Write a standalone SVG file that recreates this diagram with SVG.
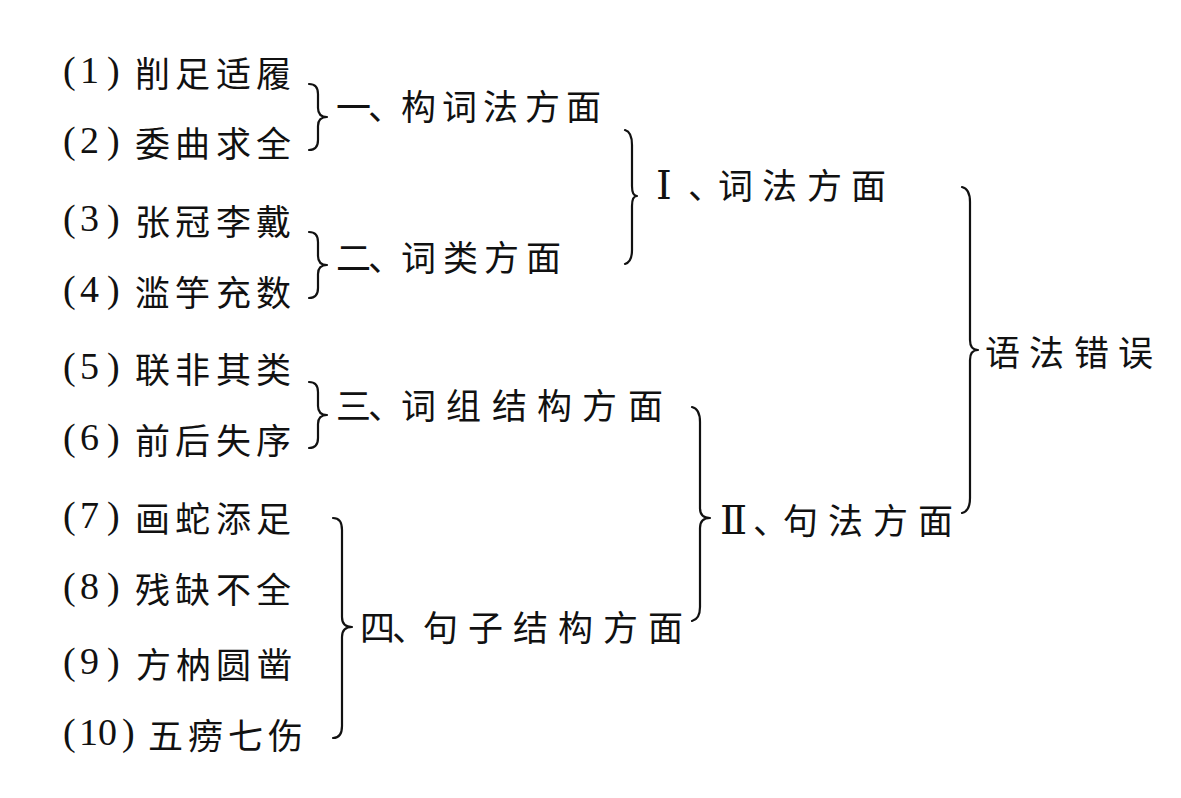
<svg xmlns="http://www.w3.org/2000/svg" width="1181" height="798" viewBox="0 0 1181 798">
<style>
text { font-family: "Noto Sans CJK SC", "Noto Sans", sans-serif; font-size: 35px; fill: #111; }
.n { font-family: "Liberation Serif", "DejaVu Serif", serif; font-size: 38px; }
.r { font-family: "DejaVu Serif", "Liberation Serif", "Noto Sans CJK SC", serif; font-size: 40px; }
.br { fill: none; stroke: #111; stroke-width: 2.2; stroke-linecap: round; stroke-linejoin: round; }
</style>
<rect width="1181" height="798" fill="#fff"/>
<g id="items">
<g id="item1"><text y="87"><tspan class="n" x="63 80 107" dy="-4">(1)</tspan><tspan x="135 175 216 256" dy="4">削足适履</tspan></text></g>
<g id="item2"><text y="157"><tspan class="n" x="63 80 107" dy="-4">(2)</tspan><tspan x="135 175 216 256" dy="4">委曲求全</tspan></text></g>
<g id="item3"><text y="235"><tspan class="n" x="63 80 107" dy="-4">(3)</tspan><tspan x="135 175 216 256" dy="4">张冠李戴</tspan></text></g>
<g id="item4"><text y="306"><tspan class="n" x="63 80 107" dy="-4">(4)</tspan><tspan x="135 175 216 256" dy="4">滥竽充数</tspan></text></g>
<g id="item5"><text y="383"><tspan class="n" x="63 80 107" dy="-4">(5)</tspan><tspan x="135 175 216 256" dy="4">联非其类</tspan></text></g>
<g id="item6"><text y="454"><tspan class="n" x="63 80 107" dy="-4">(6)</tspan><tspan x="135 175 216 256" dy="4">前后失序</tspan></text></g>
<g id="item7"><text y="532"><tspan class="n" x="63 80 107" dy="-4">(7)</tspan><tspan x="135 175 216 256" dy="4">画蛇添足</tspan></text></g>
<g id="item8"><text y="603"><tspan class="n" x="63 80 107" dy="-4">(8)</tspan><tspan x="135 175 216 256" dy="4">残缺不全</tspan></text></g>
<g id="item9"><text y="678"><tspan class="n" x="63 80 107" dy="-4">(9)</tspan><tspan x="136 176 216 257" dy="4">方枘圆凿</tspan></text></g>
<g id="item10"><text y="749"><tspan class="n" x="63 79 98 122" dy="-4">(10)</tspan><tspan x="148 188 228 268" dy="4">五痨七伤</tspan></text></g>
</g>
<g id="cat1"><text y="120" x="336 368 401 442 483 525 566">一、构词法方面</text></g>
<g id="cat2"><text y="271" x="336 368 401 443 484 526">二、词类方面</text></g>
<g id="cat3"><text y="419" x="336 368 401 446 492 537 582 628">三、词组结构方面</text></g>
<g id="cat4"><text y="641" x="360 392 423 468 513 558 603 648">四、句子结构方面</text></g>
<g id="groupI"><text y="199"><tspan class="r" x="656">Ⅰ</tspan><tspan x="688 718 762 807 851">、词法方面</tspan></text></g>
<g id="groupII"><text y="534"><tspan class="r" x="720">Ⅱ</tspan><tspan x="753 783 828 873 918">、句法方面</tspan></text></g>
<g id="root"><text y="366" x="985 1029 1074 1118">语法错误</text></g>
<g id="connectors">
<path class="br" d="M309 84 Q318 84 318 94 L318 108 Q318 117 327 117 Q318 117 318 126 L318 140 Q318 150 309 150"/>
<path class="br" d="M309 232 Q318 232 318 242 L318 256 Q318 265 327 265 Q318 265 318 274 L318 288 Q318 298 309 298"/>
<path class="br" d="M309 382 Q318 382 318 392 L318 406 Q318 415 327 415 Q318 415 318 424 L318 438 Q318 448 309 448"/>
<path class="br" d="M333 518 Q342 518 342 530 L342 617 Q342 627 352 627 Q342 627 342 637 L342 726 Q342 738 333 738"/>
<path class="br" d="M625 130 Q632 132 632 145 L632 186 Q632 196 637 196 Q632 196 632 206 L632 250 Q632 262 625 264"/>
<path class="br" d="M692 407 Q700 409 700 422 L700 508 Q700 518 710 518 Q700 518 700 528 L700 607 Q700 619 692 621"/>
<path class="br" d="M962 187 Q970 189 970 202 L970 340 Q970 350 978 350 Q970 350 970 360 L970 498 Q970 511 962 513"/>
</g>
</svg>
